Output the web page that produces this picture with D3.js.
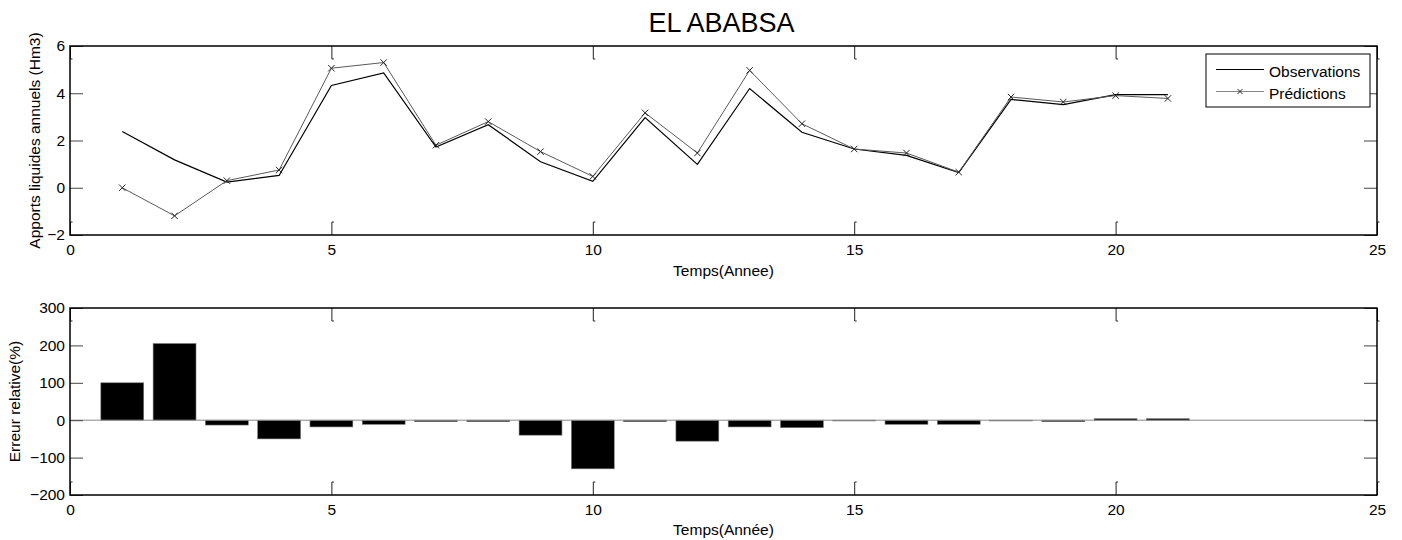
<!DOCTYPE html>
<html>
<head>
<meta charset="utf-8">
<script src="https://cdn.jsdelivr.net/npm/d3@7"></script>
<style>
  html, body { margin: 0; padding: 0; background: #fff; }
  svg { display: block; }
  text { font-family: "Liberation Sans", Arial, sans-serif; fill: #000; }
</style>
</head>
<body>
<svg id="chart" width="1402" height="540"></svg>
<script>
// ---- data ----
const years = [1,2,3,4,5,6,7,8,9,10,11,12,13,14,15,16,17,18,19,20,21];
const observations = [2.38, 1.18, 0.24, 0.52, 4.33, 4.86, 1.72, 2.67, 1.10, 0.27, 2.97, 0.99, 4.20, 2.35, 1.64, 1.37, 0.64, 3.74, 3.52, 3.94, 3.94];
const predictions  = [0.00, -1.19, 0.30, 0.75, 5.06, 5.30, 1.80, 2.80, 1.53, 0.48, 3.17, 1.47, 4.97, 2.71, 1.64, 1.47, 0.66, 3.84, 3.63, 3.90, 3.78];
const relativeError = [100, 205, -13, -50, -18, -11, -4, -4, -40, -130, -4, -56, -18, -20, -2, -11, -11, -2, -4, 4, 4];
const xTicks = [0, 5, 10, 15, 20, 25];
const yTicksTop = [-2, 0, 2, 4, 6];
const yTicksBottom = [-200, -100, 0, 100, 200, 300];
const title = "EL ABABSA";
const xLabelTop = "Temps(Annee)";
const xLabelBottom = "Temps(Année)";
const yLabelTop = "Apports liquides annuels (Hm3)";
const yLabelBottom = "Erreur relative(%)";
const legendLabels = ["Observations", "Prédictions"];

// ---- layout ----
const svg = d3.select("#chart");
const L = 70, R = 1377;
const top1 = 46, bot1 = 235;
const top2 = 308, bot2 = 495;
const FS = 15.5;
const TL = 13;

const x = d3.scaleLinear().domain([0, 25]).range([L, R]);
const y1 = d3.scaleLinear().domain([-2, 6]).range([bot1, top1]);
const y2 = d3.scaleLinear().domain([-200, 300]).range([bot2, top2]);

function axes(g, y, yTicks, top, bot) {
  const gb = g.append("g").attr("transform", `translate(0,${bot})`)
    .call(d3.axisBottom(x).tickValues(xTicks).tickSizeInner(-TL).tickSizeOuter(0).tickPadding(8.5).tickFormat(d3.format("d")));
  gb.select(".domain").remove();
  gb.selectAll(".tick line").attr("stroke", "#222");
  gb.selectAll(".tick").append("line").attr("x1", 0).attr("x2", 2).attr("y1", -TL).attr("y2", -TL).attr("stroke", "#222");
  gb.selectAll("text").style("font-size", FS + "px").style("font-family", "'Liberation Sans', Arial, sans-serif").attr("fill", "#000");
  const gt = g.append("g").attr("transform", `translate(0,${top})`)
    .call(d3.axisTop(x).tickValues(xTicks).tickSizeInner(-TL).tickSizeOuter(0).tickFormat(""));
  gt.select(".domain").remove();
  gt.selectAll(".tick line").attr("stroke", "#222");
  gt.selectAll(".tick").append("line").attr("x1", 0).attr("x2", 2).attr("y1", TL).attr("y2", TL).attr("stroke", "#222");
  const gl = g.append("g").attr("transform", `translate(${L},0)`)
    .call(d3.axisLeft(y).tickValues(yTicks).tickSizeInner(-TL).tickSizeOuter(0).tickPadding(5).tickFormat(d3.format("d")));
  gl.select(".domain").remove();
  gl.selectAll(".tick line").attr("stroke", "#444");
  gl.selectAll("text").style("font-size", FS + "px").style("font-family", "'Liberation Sans', Arial, sans-serif").attr("fill", "#000");
  const gr = g.append("g").attr("transform", `translate(${R},0)`)
    .call(d3.axisRight(y).tickValues(yTicks).tickSizeInner(-TL).tickSizeOuter(0).tickFormat(""));
  gr.select(".domain").remove();
  gr.selectAll(".tick line").attr("stroke", "#444");
  g.append("rect").attr("x", L).attr("y", top).attr("width", R - L).attr("height", bot - top)
    .attr("fill", "none").attr("stroke", "#000").attr("stroke-width", 1.5);
}

// ---- title ----
svg.append("text").attr("x", (L + R) / 2 - 2).attr("y", 32).attr("text-anchor", "middle")
  .style("font-size", "27px").text(title);

// ---- top plot ----
const g1 = svg.append("g");
const lineGen = d3.line().x((d, i) => x(years[i])).y(d => y1(d));
g1.append("path").datum(observations).attr("d", lineGen)
  .attr("fill", "none").attr("stroke", "#000").attr("stroke-width", 1.2);
g1.append("path").datum(predictions).attr("d", lineGen)
  .attr("fill", "none").attr("stroke", "#5a5a5a").attr("stroke-width", 1);
const ms = 3.2;
g1.selectAll(".mk").data(predictions).enter().append("path")
  .attr("class", "mk")
  .attr("d", (d, i) => {
    const cx = x(years[i]), cy = y1(d);
    return `M${cx - ms},${cy - ms}L${cx + ms},${cy + ms}M${cx - ms},${cy + ms}L${cx + ms},${cy - ms}`;
  })
  .attr("stroke", "#222").attr("stroke-width", 1).attr("fill", "none");
axes(g1, y1, yTicksTop, top1, bot1);

// legend
const lg = svg.append("g");
lg.append("rect").attr("x", 1206).attr("y", 54).attr("width", 164).attr("height", 53)
  .attr("fill", "#fff").attr("stroke", "#000").attr("stroke-width", 1);
lg.append("line").attr("x1", 1216).attr("x2", 1264).attr("y1", 69.5).attr("y2", 69.5)
  .attr("stroke", "#000").attr("stroke-width", 1.2);
lg.append("line").attr("x1", 1216).attr("x2", 1264).attr("y1", 91.5).attr("y2", 91.5)
  .attr("stroke", "#888").attr("stroke-width", 1);
lg.append("path").attr("d", `M${1240 - 2.5},${91.5 - 2.5}L${1240 + 2.5},${91.5 + 2.5}M${1240 - 2.5},${91.5 + 2.5}L${1240 + 2.5},${91.5 - 2.5}`)
  .attr("stroke", "#222").attr("stroke-width", 1);
lg.append("text").attr("x", 1269).attr("y", 76.5).style("font-size", FS + "px").text(legendLabels[0]);
lg.append("text").attr("x", 1269).attr("y", 99).style("font-size", FS + "px").text(legendLabels[1]);

svg.append("text").attr("x", (L + R) / 2).attr("y", 276).attr("text-anchor", "middle")
  .style("font-size", FS + "px").text(xLabelTop);
svg.append("text").attr("transform", `translate(40,${(top1 + bot1) / 2}) rotate(-90)`)
  .attr("text-anchor", "middle").style("font-size", FS + "px").text(yLabelTop);

// ---- bottom plot ----
const g2 = svg.append("g");
const bw = 0.82;
g2.selectAll(".bar").data(relativeError).enter().append("rect")
  .attr("class", "bar")
  .attr("x", (d, i) => x(years[i] - bw / 2))
  .attr("width", x(bw) - x(0))
  .attr("y", d => Math.min(y2(d), y2(0)))
  .attr("height", d => Math.abs(y2(d) - y2(0)))
  .attr("fill", "#000").attr("stroke", "#777").attr("stroke-width", 0.6);
g2.append("line").attr("x1", x(0)).attr("x2", x(25)).attr("y1", y2(0)).attr("y2", y2(0))
  .attr("stroke", "#888").attr("stroke-width", 1);
axes(g2, y2, yTicksBottom, top2, bot2);

svg.append("text").attr("x", (L + R) / 2).attr("y", 535).attr("text-anchor", "middle")
  .style("font-size", FS + "px").text(xLabelBottom);
svg.append("text").attr("transform", `translate(20,${(top2 + bot2) / 2}) rotate(-90)`)
  .attr("text-anchor", "middle").style("font-size", FS + "px").text(yLabelBottom);
</script>
</body>
</html>
